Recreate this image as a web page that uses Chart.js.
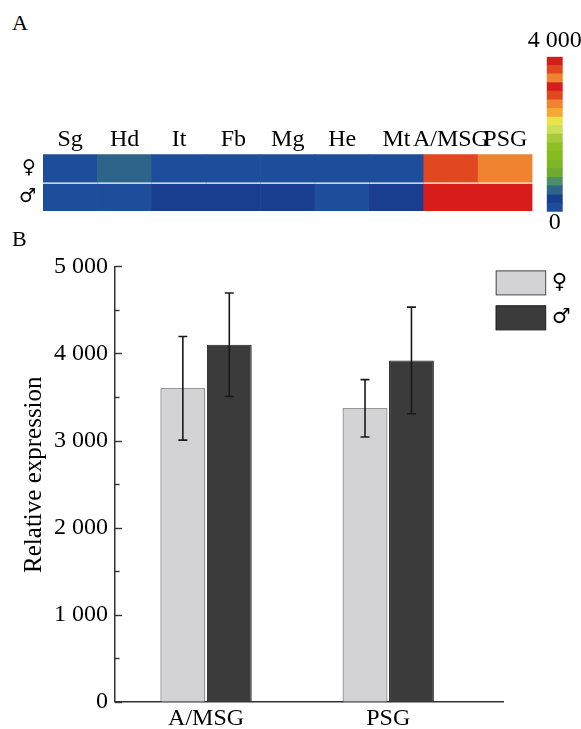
<!DOCTYPE html>
<html><head><meta charset="utf-8">
<script src="https://cdn.jsdelivr.net/npm/chart.js@4/dist/chart.umd.min.js"></script>
<style>
html,body{margin:0;padding:0;background:#fff;width:581px;height:729px;overflow:hidden;position:relative;font-family:'Liberation Serif','Times New Roman',serif;}
canvas{position:absolute;}
.panel{position:absolute;font-size:22px;color:#000;line-height:1;}
</style></head><body>
<canvas id="heat" width="581" height="130" style="left:0;top:100px"></canvas>
<canvas id="cbar" width="90" height="225" style="left:500px;top:20px"></canvas>
<canvas id="bars" width="581" height="484" style="left:0;top:245px"></canvas>
<div class="panel" style="left:12px;top:12px">A</div>
<div class="panel" style="left:12px;top:228px">B</div>
<script>
// ---------- data ----------
const tissues = ['Sg', 'Hd', 'It', 'Fb', 'Mg', 'He', 'Mt', 'A/MSG', 'PSG'];
const femaleHeat = [120, 560, 100, 100, 100, 100, 100, 3600, 3370];
const maleHeat   = [150, 150, 300, 300, 300, 180, 300, 4100, 3920];
const colorScaleMax = 4000;
const colorScaleLabels = ['0', '4 000'];
// colour bar segments, bottom to top
const palette = ['#1e4d9b', '#1a3e8f', '#2e6489', '#4b9068', '#6fab30', '#7eb725', '#86bc1f', '#8cbf22',
                 '#a7cb38', '#cbdf5a', '#ece34b', '#f3a934', '#ef8330', '#e2481f', '#d81c1c',
                 '#ef8330', '#e2481f', '#d81c1c'];
const sexLabels = ['\u2640', '\u2642'];
const glands = ['A/MSG', 'PSG'];
const femaleMean = [3600, 3370];
const femaleErr  = [595, 330];
const maleMean   = [4100, 3920];
const maleErr    = [595, 612];
const yMax = 5000;
const yTitle = 'Relative expression';

Chart.defaults.font.family = "'Liberation Serif','Times New Roman',serif";
Chart.defaults.color = '#000';
Chart.defaults.animation = false;

function colorFor(v) {
  const idx = Math.max(0, Math.min(palette.length - 1, Math.floor(v / colorScaleMax * palette.length)));
  return palette[idx];
}
function fmt(v) {
  return String(v).replace(/\B(?=(\d{3})+(?!\d))/g, ' ');
}
function fixH(h) {
  return s => { s.height = h; s.paddingLeft = 0; s.paddingRight = 0; };
}

// ---------- A: heat map ----------
new Chart(document.getElementById('heat'), {
  type: 'bar',
  data: {
    labels: tissues,
    datasets: [
      { label: sexLabels[0], data: femaleHeat.map(() => [1.02, 2]), backgroundColor: femaleHeat.map(colorFor),
        grouped: false, barPercentage: 1, categoryPercentage: 1, borderWidth: 0 },
      { label: sexLabels[1], data: maleHeat.map(() => [0, 0.95]), backgroundColor: maleHeat.map(colorFor),
        grouped: false, barPercentage: 1, categoryPercentage: 1, borderWidth: 0 }
    ]
  },
  options: {
    responsive: false, devicePixelRatio: 1,
    layout: { padding: { left: 0, right: 48.5, top: 24.3, bottom: 19 } },
    plugins: { legend: { display: false }, tooltip: { enabled: false } },
    scales: {
      x: { position: 'top', grid: { display: false, drawTicks: false }, border: { display: false },
           ticks: { autoSkip: false, maxRotation: 0, padding: 0, font: { size: 24 } },
           afterFit: fixH(30) },
      y: { min: 0, max: 2, grid: { display: false, drawTicks: false }, border: { display: false },
           afterBuildTicks: s => { s.ticks = [{ value: 0.5 }, { value: 1.5 }]; },
           ticks: { padding: 7, font: { size: 19, family: "'DejaVu Sans'" }, callback: v => v > 1 ? sexLabels[0] : sexLabels[1] },
           afterFit: s => { s.width = 43; } }
    }
  }
});

// ---------- colour bar ----------
new Chart(document.getElementById('cbar'), {
  type: 'bar',
  data: {
    labels: [colorScaleLabels[0]],
    datasets: palette.map(c => ({ data: [colorScaleMax / palette.length], backgroundColor: c,
      xAxisID: 'x', yAxisID: 'y', stack: 'bar',
      barPercentage: 1, categoryPercentage: 1, borderWidth: 0 }))
  },
  options: {
    responsive: false, devicePixelRatio: 1,
    layout: { autoPadding: false, padding: { left: 46.7, right: 27.3, top: 6.7, bottom: 3.3 } },
    plugins: { legend: { display: false }, tooltip: { enabled: false } },
    scales: {
      x: { type: 'category', stacked: true, offset: true, grid: { display: false, drawTicks: false }, border: { display: false },
           ticks: { padding: -3, font: { size: 24 }, maxRotation: 0 }, afterFit: fixH(30) },
      xTop: { type: 'category', labels: [colorScaleLabels[1]], position: 'top', offset: true,
           grid: { display: false, drawTicks: false }, border: { display: false },
           ticks: { padding: 1.3, font: { size: 24 }, maxRotation: 0 }, afterFit: fixH(30) },
      y: { stacked: true, display: false, min: 0, max: colorScaleMax }
    }
  }
});

// ---------- B: bar chart ----------
const errPlugin = {
  id: 'errBars',
  afterDatasetsDraw(chart) {
    const ctx = chart.ctx, y = chart.scales.y;
    chart.data.datasets.forEach((ds, di) => {
      chart.getDatasetMeta(di).data.forEach((bar, i) => {
        const m = ds.data[i].y, e = ds.errors[i];
        const t = y.getPixelForValue(m + e), b = y.getPixelForValue(m - e);
        ctx.save();
        ctx.strokeStyle = '#1a1a1a'; ctx.lineWidth = 1.6;
        ctx.beginPath();
        ctx.moveTo(bar.x, t); ctx.lineTo(bar.x, b);
        ctx.moveTo(bar.x - 4.5, t); ctx.lineTo(bar.x + 4.5, t);
        ctx.moveTo(bar.x - 4.5, b); ctx.lineTo(bar.x + 4.5, b);
        ctx.stroke();
        ctx.restore();
      });
    });
  }
};
const tickPlugin = {
  id: 'inTicks',
  afterDraw(chart) {
    const ctx = chart.ctx, y = chart.scales.y, left = chart.chartArea.left;
    ctx.save();
    ctx.strokeStyle = '#333'; ctx.lineWidth = 1.4;
    y.ticks.forEach(t => {
      const py = Math.round(y.getPixelForValue(t.value)) + 0.5;
      const len = t.value % 1000 === 0 ? 7 : 4.5;
      ctx.beginPath(); ctx.moveTo(left, py); ctx.lineTo(left + len, py); ctx.stroke();
    });
    ctx.restore();
  }
};
const legendPlugin = {
  id: 'boxLegend',
  afterDraw(chart) {
    const ctx = chart.ctx, a = chart.chartArea;
    ctx.save();
    chart.data.datasets.forEach((ds, i) => {
      const x = a.right - 7.3, yTop = a.top + 4 + i * 35;
      ctx.fillStyle = ds.backgroundColor;
      ctx.fillRect(x, yTop, 50, 24.5);
      ctx.strokeStyle = ds.borderColor; ctx.lineWidth = 1;
      ctx.strokeRect(x + 0.5, yTop + 0.5, 49.5, 24);
      ctx.fillStyle = '#000';
      ctx.font = "21px 'DejaVu Sans'";
      ctx.textBaseline = 'middle'; ctx.textAlign = 'left';
      ctx.fillText(ds.label, x + 56, yTop + 12.5);
    });
    ctx.restore();
  }
};

new Chart(document.getElementById('bars'), {
  type: 'bar',
  data: {
    datasets: [
      { label: sexLabels[0], data: glands.map((g, i) => ({ x: i + 1, y: femaleMean[i] })), errors: femaleErr,
        backgroundColor: '#d3d3d5', borderColor: '#4a4a4a', borderWidth: 1,
        barPercentage: 0.965, categoryPercentage: 0.51 },
      { label: sexLabels[1], data: glands.map((g, i) => ({ x: i + 1, y: maleMean[i] })), errors: maleErr,
        backgroundColor: '#3b3b3b', borderColor: '#222', borderWidth: 1,
        barPercentage: 0.965, categoryPercentage: 0.51 }
    ]
  },
  options: {
    responsive: false, devicePixelRatio: 1,
    layout: { padding: { left: 0, right: 78, top: 17.7, bottom: 0.3 } },
    plugins: { legend: { display: false }, tooltip: { enabled: false } },
    scales: {
      x: { type: 'linear', min: 0.5, max: 2.63, offset: false,
           grid: { display: false, drawTicks: false, offset: false }, border: { display: true, color: '#333', width: 1.5 },
           afterBuildTicks: s => { s.ticks = glands.map((g, i) => ({ value: i + 1 })); },
           ticks: { callback: v => glands[v - 1] || '', padding: 3, font: { size: 24 }, autoSkip: false, maxRotation: 0 },
           afterFit: s => { s.height = 27; } },
      y: { min: 0, max: yMax,
           ticks: { stepSize: 500, autoSkip: false, padding: 7, font: { size: 24 },
                    callback: v => v % 1000 === 0 ? fmt(v) : '' },
           grid: { display: false, drawTicks: false }, border: { display: true, color: '#333', width: 1.5 },
           title: { display: true, text: '   ' + yTitle, font: { size: 25 }, padding: { top: 19.5, bottom: 0 } },
           afterFit: s => { s.width = 115; } }
    }
  },
  plugins: [errPlugin, tickPlugin, legendPlugin]
});
</script>
</body></html>
